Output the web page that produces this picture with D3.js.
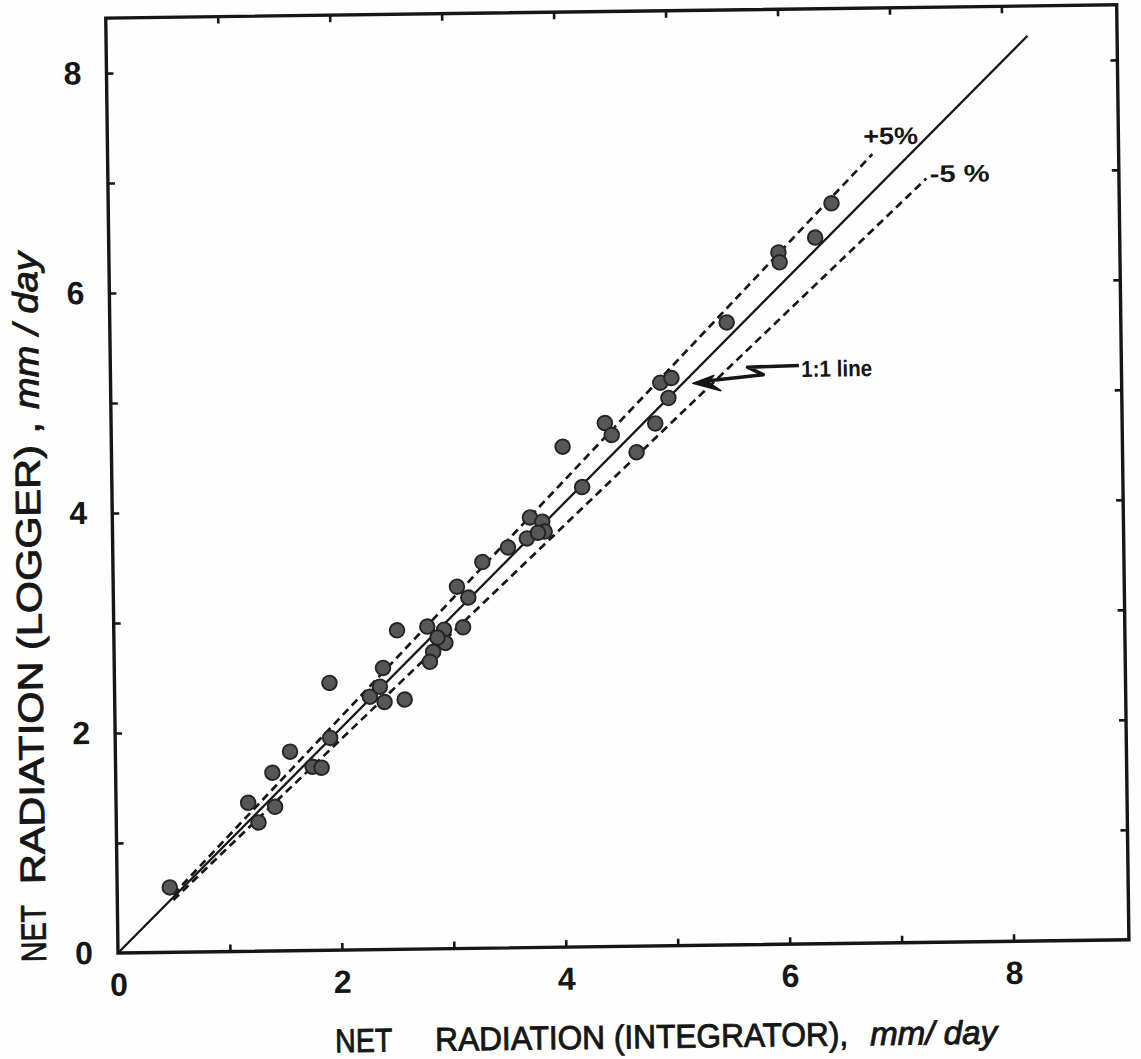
<!DOCTYPE html>
<html>
<head>
<meta charset="utf-8">
<script src="https://cdn.jsdelivr.net/npm/d3@7"></script>
<style>
  body { margin: 0; background: #ffffff; }
  svg { display: block; }
</style>
</head>
<body>
<svg id="chart" width="1141" height="1059"></svg>
<script>
// Daily net radiation, integrator (x) against logger (y), mm/day
const integrator = [0.47, 1.18, 1.27, 1.40, 1.42, 1.56, 1.76, 1.84, 1.92, 1.92,
                    2.28, 2.37, 2.41, 2.40, 2.59, 2.53, 2.80, 2.95, 2.96, 2.89,
                    2.85, 2.82, 3.12, 3.07, 3.17, 3.30, 3.53, 3.70, 3.73, 3.84,
                    3.86, 3.80, 4.03, 4.20, 4.41, 4.47, 4.69, 4.86, 4.91, 5.01,
                    4.98, 5.51, 5.98, 5.99, 6.31, 6.46];
const logger     = [0.59, 1.35, 1.17, 1.62, 1.31, 1.81, 1.67, 1.66, 2.43, 1.93,
                    2.30, 2.39, 2.25, 2.56, 2.27, 2.90, 2.93, 2.90, 2.78, 2.83,
                    2.70, 2.61, 2.92, 3.29, 3.19, 3.51, 3.64, 3.72, 3.91, 3.87,
                    3.78, 3.77, 4.55, 4.18, 4.76, 4.65, 4.49, 4.75, 5.12, 5.16,
                    4.98, 5.66, 6.29, 6.20, 6.42, 6.73];

// Reference lines: logger = slope * integrator, drawn over [start, end]
const refNames  = ["1:1 line", "+5%", "-5 %"];
const refSlopes = [1.00, 1.05, 0.95];
const refStart  = [0.00, 0.50, 0.50];
const refEnd    = [8.23, 6.83, 7.31];

// Axis ticks
const xMinorTicks = [1, 2, 3, 4, 5, 6, 7, 8];
const yMinorTicks = [1, 2, 3, 4, 5, 6, 7, 8];
const xTickLabels = [0, 2, 4, 6, 8];
const yTickLabels = [0, 2, 4, 6, 8];
const xMax = 9.03, yMax = 8.5;

// ---------------------------------------------------------------
const svg = d3.select("#chart");
svg.append("rect").attr("width", 1141).attr("height", 1059).attr("fill", "#fefefe");

const ox = 118, oy = 953;          // plot origin
const W = 1011, H = 935;           // plot frame size
const x = d3.scaleLinear().domain([0, xMax]).range([ox, ox + W]);
const y = d3.scaleLinear().domain([0, yMax]).range([oy, oy - H]);

// the printed sheet sits at a slight tilt
const g = svg.append("g").attr("transform", `rotate(-0.75 ${ox} ${oy})`);

const ink = "#161616";

// frame
g.append("rect")
  .attr("x", x(0)).attr("y", y(yMax))
  .attr("width", x(xMax) - x(0)).attr("height", y(0) - y(yMax))
  .attr("fill", "none").attr("stroke", ink).attr("stroke-width", 3.4);

// inward ticks on all four sides
function tickAxis(axis, transform) {
  const a = g.append("g").attr("transform", transform).call(axis);
  a.select(".domain").remove();
  a.selectAll("line").attr("stroke", ink).attr("stroke-width", 2.6);
  a.selectAll("text").remove();
}
tickAxis(d3.axisBottom(x).tickValues(xMinorTicks).tickSize(-7), `translate(0,${y(0)})`);
tickAxis(d3.axisTop(x).tickValues(xMinorTicks).tickSize(-7), `translate(0,${y(yMax)})`);
tickAxis(d3.axisLeft(y).tickValues(yMinorTicks).tickSize(-7), `translate(${x(0)},0)`);
tickAxis(d3.axisRight(y).tickValues(yMinorTicks).tickSize(-7), `translate(${x(xMax)},0)`);

// tick labels
const labelFont = "'Liberation Sans', Arial, sans-serif";
const xl = g.append("g").attr("transform", `translate(0,${y(0)})`)
  .call(d3.axisBottom(x).tickValues(xTickLabels).tickSize(0).tickPadding(20).tickFormat(d3.format("d")));
xl.select(".domain").remove();
xl.selectAll("text").attr("font-family", labelFont).attr("font-size", 32)
  .attr("font-weight", "bold").attr("fill", ink);

const yl = g.append("g").attr("transform", `translate(${x(0)},0)`)
  .call(d3.axisLeft(y).tickValues(yTickLabels).tickSize(0).tickPadding(25).tickFormat(d3.format("d")));
yl.select(".domain").remove();
yl.selectAll("text").attr("font-family", labelFont).attr("font-size", 32)
  .attr("font-weight", "bold").attr("fill", ink);

// reference lines
refSlopes.forEach((s, i) => {
  g.append("line")
    .attr("x1", x(refStart[i])).attr("y1", y(s * refStart[i]))
    .attr("x2", x(refEnd[i])).attr("y2", y(s * refEnd[i]))
    .attr("stroke", ink)
    .attr("stroke-width", i === 0 ? 2.3 : 2.7)
    .attr("stroke-dasharray", i === 0 ? null : "8,5");
});

// observations
g.append("g").selectAll("circle")
  .data(integrator.map((v, i) => [v, logger[i]]))
  .join("circle")
  .attr("cx", d => x(d[0])).attr("cy", d => y(d[1]))
  .attr("r", 7.3)
  .attr("fill", "#575757")
  .attr("stroke", "#242424")
  .attr("stroke-width", 1.9);

// line labels
const annFont = "'Liberation Sans', Arial, sans-serif";
g.append("text").text(refNames[1])
  .attr("x", x(6.75)).attr("y", y(7.26))
  .attr("font-family", annFont).attr("font-weight", "bold").attr("font-size", 24)
  .attr("textLength", 55).attr("lengthAdjust", "spacingAndGlyphs").attr("fill", ink);
g.append("text").text(refNames[2])
  .attr("x", x(7.34)).attr("y", y(6.91))
  .attr("font-family", annFont).attr("font-weight", "bold").attr("font-size", 24)
  .attr("textLength", 60).attr("lengthAdjust", "spacingAndGlyphs").attr("fill", ink);
g.append("text").text(refNames[0])
  .attr("x", x(6.17)).attr("y", y(5.155))
  .attr("font-family", annFont).attr("font-weight", "bold").attr("font-size", 23)
  .attr("textLength", 71).attr("lengthAdjust", "spacingAndGlyphs").attr("fill", ink);

// pointer from the label to the 1:1 line
const pointer = [[6.15, 5.26], [5.69, 5.25], [5.83, 5.18], [5.32, 5.13]];
g.append("path")
  .attr("d", d3.line().x(d => x(d[0])).y(d => y(d[1]))(pointer))
  .attr("fill", "none").attr("stroke", ink).attr("stroke-width", 3.6)
  .attr("stroke-linejoin", "round");
const head = [[5.20, 5.11], [5.39, 5.18], [5.34, 5.12], [5.45, 5.04]];
g.append("path")
  .attr("d", d3.line().x(d => x(d[0])).y(d => y(d[1]))(head) + "Z")
  .attr("fill", ink).attr("stroke", ink).attr("stroke-width", 1.5)
  .attr("stroke-linejoin", "round");

// axis titles
const titleFont = "'Liberation Sans', Arial, sans-serif";
function titlePiece(parent, str, x0, len, italic) {
  parent.append("text").text(str)
    .attr("x", x0).attr("y", 0)
    .attr("font-family", titleFont).attr("font-size", parent.attr("data-size"))
    .attr("font-style", italic ? "italic" : "normal")
    .attr("textLength", len).attr("lengthAdjust", "spacingAndGlyphs")
    .attr("fill", ink).attr("stroke", ink).attr("stroke-width", 0.9);
}
const xt = g.append("g").attr("transform", `translate(0,1055)`).attr("data-size", 33);
titlePiece(xt, "NET", 334, 57, false);
titlePiece(xt, "RADIATION (INTEGRATOR),", 434, 413, false);
titlePiece(xt, "mm/ day", 869, 127, true);

const yt = g.append("g").attr("transform", `translate(46,0) rotate(-90)`).attr("data-size", 35);
titlePiece(yt, "NET", -961, 57, false);
titlePiece(yt, "RADIATION (LOGGER) ,", -883, 462, false);
titlePiece(yt, "mm / day", -408, 157, true);
</script>
</body>
</html>
